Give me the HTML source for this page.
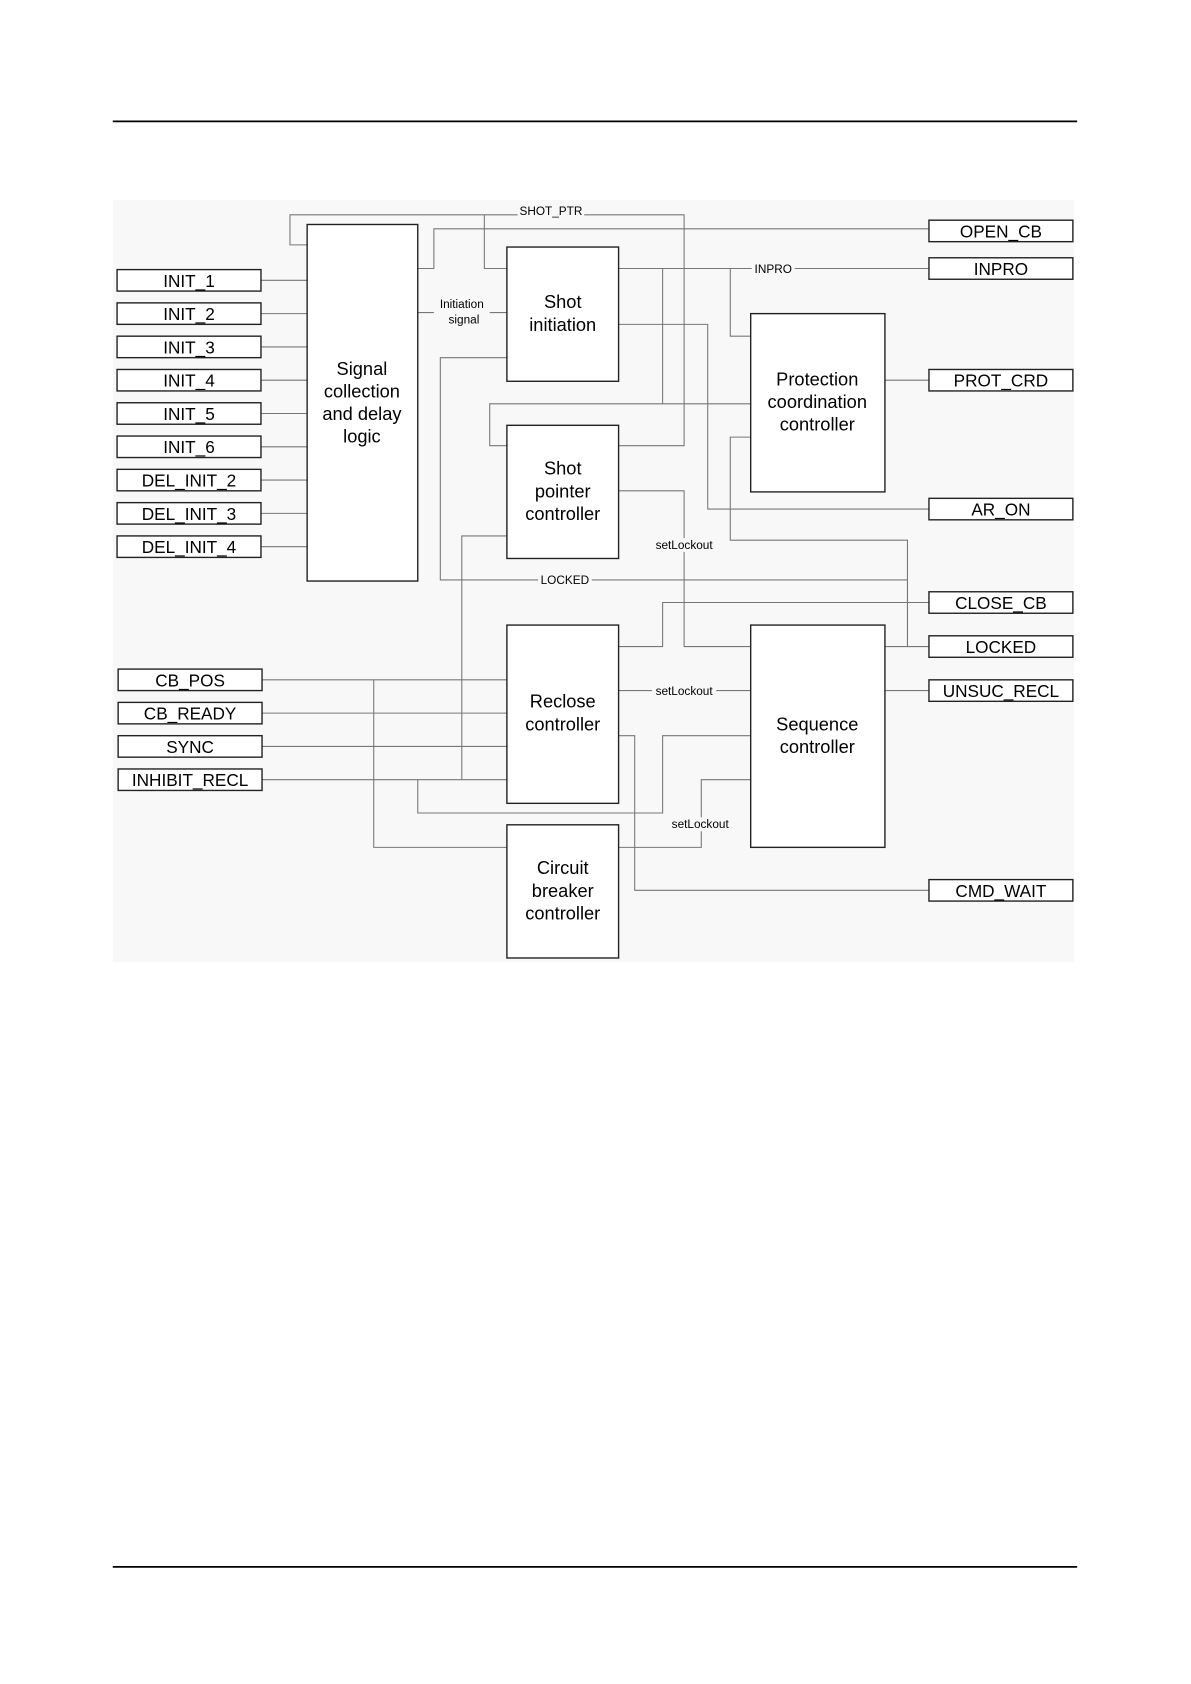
<!DOCTYPE html>
<html><head><meta charset="utf-8"><style>
html,body{margin:0;padding:0;background:#fff;}
svg{display:block;}
text{font-family:"Liberation Sans",Arial,sans-serif;fill:#000;}
</style></head><body>
<svg width="1191" height="1684" viewBox="0 0 1109 1568" xmlns="http://www.w3.org/2000/svg">
<rect x="105" y="186" width="895" height="710" fill="#f8f8f8"/>
<line x1="105" y1="113" x2="1003" y2="113" stroke="#000" stroke-width="1.6"/>
<line x1="105" y1="1459" x2="1003" y2="1459" stroke="#000" stroke-width="1.6"/>

<g fill="none" stroke="#777" stroke-width="1">
<path d="M243 261H286M243 292H286M243 323H286M243 354H286M243 385H286M243 416H286M243 447H286M243 478H286M243 509H286"/>
<path d="M286 228H270V200H637V415H576"/>
<path d="M451 200V250H472"/>
<path d="M389 250H404V213H865"/>
<path d="M389 291H472"/>
<path d="M576 250H865"/>
<path d="M617 250V376H456V415H472"/>
<path d="M617 376H699"/>
<path d="M680 250V313H699"/>
<path d="M576 302H659V474H865"/>
<path d="M472 333H410V540H845V602"/>
<path d="M699 407H680V503H845V602H865"/>
<path d="M824 602H845"/>
<path d="M576 457H637V602H699"/>
<path d="M472 499H430V726"/>
<path d="M576 602H617V561H865"/>
<path d="M576 643H699"/>
<path d="M576 685H591V829H865"/>
<path d="M699 685H617V757H389V726"/>
<path d="M699 726H653V789H576"/>
<path d="M244 633H472M244 664H472M244 695H472M244 726H472"/>
<path d="M348 633V789H472"/>
<path d="M824 354H865M824 643H865"/>
</g>

<g font-size="11" text-anchor="middle">
<rect x="482" y="190" width="62" height="13" fill="#f8f8f8"/>
<text x="513" y="200">SHOT_PTR</text>
<rect x="700" y="244" width="40" height="13" fill="#f8f8f8"/>
<text x="720" y="254">INPRO</text>
<rect x="404" y="277" width="52" height="28" fill="#f8f8f8"/>
<text x="430" y="287">Initiation</text>
<text x="432" y="301">signal</text>
<rect x="501" y="534" width="50" height="13" fill="#f8f8f8"/>
<text x="526" y="544">LOCKED</text>
<rect x="607" y="501" width="60" height="13" fill="#f8f8f8"/>
<text x="637" y="511">setLockout</text>
<rect x="607" y="637" width="60" height="13" fill="#f8f8f8"/>
<text x="637" y="647">setLockout</text>
<rect x="622" y="761" width="60" height="13" fill="#f8f8f8"/>
<text x="652" y="771">setLockout</text>
</g>

<g fill="#fff" stroke="#222" stroke-width="1.3">
<rect x="286" y="209" width="103" height="332"/>
<rect x="472" y="230" width="104" height="125"/>
<rect x="472" y="396" width="104" height="124"/>
<rect x="472" y="582" width="104" height="166"/>
<rect x="472" y="768" width="104" height="124"/>
<rect x="699" y="292" width="125" height="166"/>
<rect x="699" y="582" width="125" height="207"/>
</g>
<g font-size="17" text-anchor="middle">
<text x="337" y="349">Signal</text><text x="337" y="370">collection</text><text x="337" y="391">and delay</text><text x="337" y="412">logic</text>
<text x="524" y="287">Shot</text><text x="524" y="308">initiation</text>
<text x="524" y="442">Shot</text><text x="524" y="463">pointer</text><text x="524" y="484">controller</text>
<text x="524" y="659">Reclose</text><text x="524" y="680">controller</text>
<text x="524" y="814">Circuit</text><text x="524" y="835">breaker</text><text x="524" y="856">controller</text>
<text x="761" y="359">Protection</text><text x="761" y="380">coordination</text><text x="761" y="401">controller</text>
<text x="761" y="680">Sequence</text><text x="761" y="701">controller</text>
</g>

<g fill="#fff" stroke="#222" stroke-width="1.3">
<rect x="109" y="251" width="134" height="20"/>
<rect x="109" y="282" width="134" height="20"/>
<rect x="109" y="313" width="134" height="20"/>
<rect x="109" y="344" width="134" height="20"/>
<rect x="109" y="375" width="134" height="20"/>
<rect x="109" y="406" width="134" height="20"/>
<rect x="109" y="437" width="134" height="20"/>
<rect x="109" y="468" width="134" height="20"/>
<rect x="109" y="499" width="134" height="20"/>
<rect x="110" y="623" width="134" height="20"/>
<rect x="110" y="654" width="134" height="20"/>
<rect x="110" y="685" width="134" height="20"/>
<rect x="110" y="716" width="134" height="20"/>
<rect x="865" y="205" width="134" height="20"/>
<rect x="865" y="240" width="134" height="20"/>
<rect x="865" y="344" width="134" height="20"/>
<rect x="865" y="464" width="134" height="20"/>
<rect x="865" y="551" width="134" height="20"/>
<rect x="865" y="592" width="134" height="20"/>
<rect x="865" y="633" width="134" height="20"/>
<rect x="865" y="819" width="134" height="20"/>
</g>
<g font-size="16" text-anchor="middle">
<text x="176" y="267">INIT_1</text>
<text x="176" y="298">INIT_2</text>
<text x="176" y="329">INIT_3</text>
<text x="176" y="360">INIT_4</text>
<text x="176" y="391">INIT_5</text>
<text x="176" y="422">INIT_6</text>
<text x="176" y="453">DEL_INIT_2</text>
<text x="176" y="484">DEL_INIT_3</text>
<text x="176" y="515">DEL_INIT_4</text>
<text x="177" y="639">CB_POS</text>
<text x="177" y="670">CB_READY</text>
<text x="177" y="701">SYNC</text>
<text x="177" y="732">INHIBIT_RECL</text>
<text x="932" y="221">OPEN_CB</text>
<text x="932" y="256">INPRO</text>
<text x="932" y="360">PROT_CRD</text>
<text x="932" y="480">AR_ON</text>
<text x="932" y="567">CLOSE_CB</text>
<text x="932" y="608">LOCKED</text>
<text x="932" y="649">UNSUC_RECL</text>
<text x="932" y="835">CMD_WAIT</text>
</g>
</svg>
</body></html>
